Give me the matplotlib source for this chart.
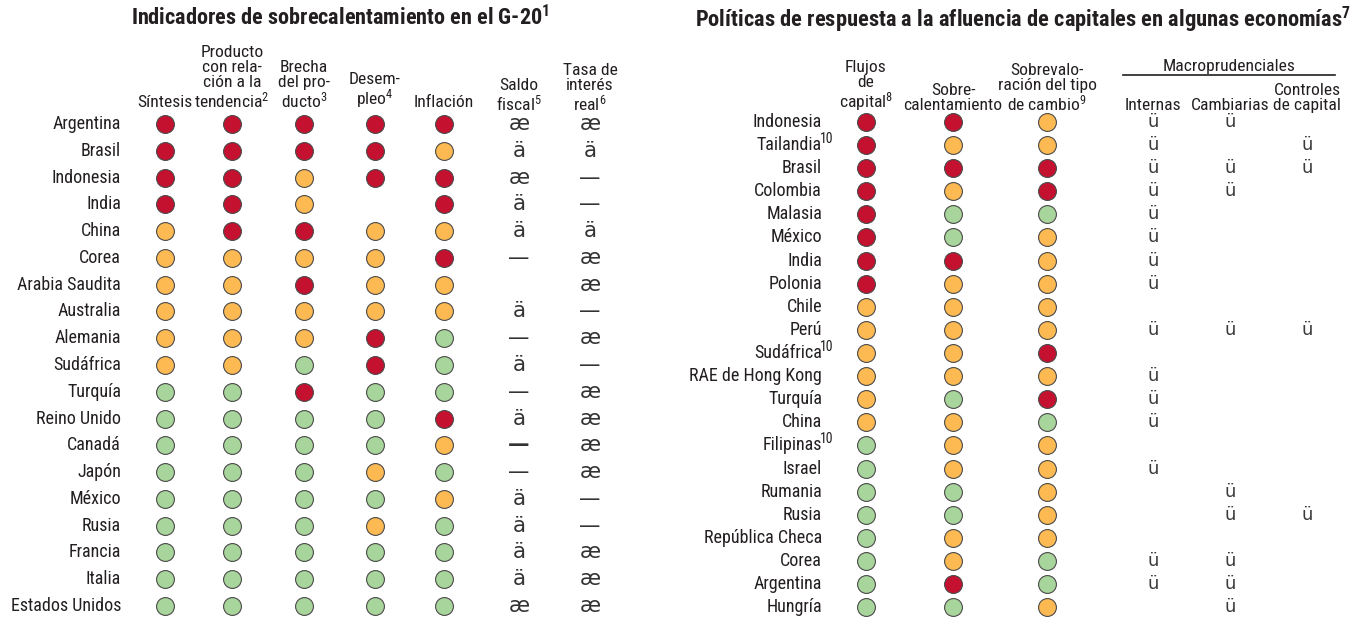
import matplotlib
matplotlib.use("Agg")
import matplotlib.pyplot as plt
from matplotlib import font_manager

# ---- data: left table (G-20 overheating indicators) ----
left_rows = ["Argentina", "Brasil", "Indonesia", "India", "China", "Corea", "Arabia Saudita",
             "Australia", "Alemania", "Sudáfrica", "Turquía", "Reino Unido", "Canadá", "Japón",
             "México", "Rusia", "Francia", "Italia", "Estados Unidos"]
left_headers = ["Síntesis", "Producto\ncon rela-\nción a la\ntendencia$^{2}$", "Brecha\ndel pro-\nducto$^{3}$",
                "Desem-\npleo$^{4}$", "Inflación", "Saldo\nfiscal$^{5}$", "Tasa de\ninterés\nreal$^{6}$"]
# 3 = alto (rojo), 2 = medio (amarillo), 1 = bajo (verde), 0 = sin dato
sintesis = [3, 3, 3, 3, 2, 2, 2, 2, 2, 2, 1, 1, 1, 1, 1, 1, 1, 1, 1]
producto = [3, 3, 3, 3, 3, 2, 2, 2, 2, 2, 1, 1, 1, 1, 1, 1, 1, 1, 1]
brecha = [3, 3, 2, 2, 3, 2, 3, 2, 2, 1, 3, 1, 1, 1, 1, 1, 1, 1, 1]
desempleo = [3, 3, 3, 0, 2, 2, 2, 2, 3, 3, 1, 1, 1, 2, 1, 2, 1, 1, 1]
inflacion = [3, 2, 3, 3, 2, 3, 2, 2, 1, 1, 1, 3, 2, 1, 2, 1, 1, 1, 1]
saldo_fiscal = ["æ", "ä", "æ", "ä", "ä", "—", "", "ä", "—", "ä", "—", "ä", "—", "—", "ä", "ä", "ä", "ä", "æ"]
tasa_real = ["æ", "ä", "—", "—", "ä", "æ", "æ", "—", "æ", "—", "æ", "æ", "æ", "æ", "—", "—", "æ", "æ", "æ"]
bold_cells = [("Canadá", 5)]

# ---- data: right table (capital inflow responses) ----
right_rows = ["Indonesia", "Tailandia", "Brasil", "Colombia", "Malasia", "México", "India", "Polonia",
              "Chile", "Perú", "Sudáfrica", "RAE de Hong Kong", "Turquía", "China", "Filipinas",
              "Israel", "Rumania", "Rusia", "República Checa", "Corea", "Argentina", "Hungría"]
right_notes = {"Tailandia": "10", "Sudáfrica": "10", "Filipinas": "10"}
right_headers = ["Flujos\nde\ncapital$^{8}$", "Sobre-\ncalentamiento", "Sobrevalo-\nración del tipo\nde cambio$^{9}$",
                 "Internas", "Cambiarias", "Controles\nde capital"]
flujos = [3, 3, 3, 3, 3, 3, 3, 3, 2, 2, 2, 2, 2, 2, 1, 1, 1, 1, 1, 1, 1, 1]
sobrecalent = [3, 2, 3, 2, 1, 1, 3, 2, 2, 2, 2, 2, 1, 2, 2, 2, 1, 1, 2, 2, 3, 1]
sobrevalor = [2, 2, 3, 3, 1, 2, 2, 2, 2, 2, 3, 2, 3, 1, 2, 2, 2, 2, 2, 1, 1, 2]
internas = [1, 1, 1, 1, 1, 1, 1, 1, 0, 1, 0, 1, 1, 1, 0, 1, 0, 0, 0, 1, 1, 0]
cambiarias = [1, 0, 1, 1, 0, 0, 0, 0, 0, 1, 0, 0, 0, 0, 0, 0, 1, 1, 0, 1, 1, 1]
controles = [0, 1, 1, 0, 0, 0, 0, 0, 0, 1, 0, 0, 0, 0, 0, 0, 0, 1, 0, 0, 0, 0]

colors = {3: "#C4112F", 2: "#FDBA52", 1: "#A8D59B"}
txt = "#231F20"

# ---- fonts ----
names = {f.name for f in font_manager.fontManager.ttflist}
fam = "Liberation Sans"
k = 0.82
for cand in ["Roboto Condensed", "Liberation Sans Narrow", "Open Sans Condensed"]:
    if cand in names:
        fam = cand
        k = 1.0
        break
plt.rcParams["font.family"] = [fam, "DejaVu Sans"]
plt.rcParams["mathtext.fontset"] = "custom"
plt.rcParams["mathtext.rm"] = fam
plt.rcParams["mathtext.bf"] = fam + ":bold"
plt.rcParams["mathtext.default"] = "regular"
sym_font = "DejaVu Sans"

W, H = 1358, 622
fig = plt.figure(figsize=(W / 100, H / 100), dpi=100)


def make_ax(row0, step):
    ax = fig.add_axes([0, 0, 1, 1])
    ax.set_xlim(0, W)
    ax.set_ylim((H - row0) / step, -row0 / step)
    ax.axis("off")
    return ax


def circles(ax, x, vals):
    for c in (1, 2, 3):
        ys = [i for i, v in enumerate(vals) if v == c]
        ax.scatter([x] * len(ys), ys, s=165, color=colors[c], edgecolor="#4a4a4a",
                   linewidth=0.8, zorder=3)


# ---- left panel ----
l_row0, l_step = 124, 26.78
axl = make_ax(l_row0, l_step)
l_cols = [165, 232, 304, 375, 444, 519, 590]
for i, name in enumerate(left_rows):
    axl.text(121, i, name, ha="right", va="center", fontsize=13 * k, color=txt)
for j, h in enumerate(left_headers):
    yb = 110 if j < 5 else 113
    axl.text(l_cols[j], (yb - l_row0) / l_step, h, ha="center", va="bottom",
             fontsize=12.6 * k, color=txt, linespacing=1.0)
for j, vals in enumerate([sintesis, producto, brecha, desempleo, inflacion]):
    circles(axl, l_cols[j], vals)
for j, vals in [(5, saldo_fiscal), (6, tasa_real)]:
    for i, s in enumerate(vals):
        if not s:
            continue
        bold = (left_rows[i], j) in bold_cells
        axl.text(l_cols[j], i, s, ha="center", va="center", fontsize=15.5,
                 family=sym_font, color="#333333", fontweight="bold" if bold else "normal")
fig.text(340 / W, 1 - 18 / H, "Indicadores de sobrecalentamiento en el G-20$^{\\mathbf{1}}$",
         ha="center", va="center", fontsize=16 * k, fontweight="bold", color=txt)

# ---- right panel ----
r_row0, r_step = 122, 23.1
axr = make_ax(r_row0, r_step)
r_cols = [866, 953, 1047, 1153, 1230, 1307]
for i, name in enumerate(right_rows):
    axr.text(822, i, name, ha="right", va="center", fontsize=13 * k, color=txt)
    if name in right_notes:
        axr.text(820, i - 0.28, right_notes[name], ha="left", va="center",
                 fontsize=10 * k, color=txt)
for j, h in enumerate(right_headers):
    axr.text(r_cols[j], (113 - r_row0) / r_step, h, ha="center", va="bottom",
             fontsize=12.6 * k, color=txt, linespacing=1.0)
for j, vals in enumerate([flujos, sobrecalent, sobrevalor]):
    circles(axr, r_cols[j], vals)
for j, vals in [(3, internas), (4, cambiarias), (5, controles)]:
    for i, v in enumerate(vals):
        if v:
            axr.text(r_cols[j], i, "ü", ha="center", va="center", fontsize=13,
                     family=sym_font, color="#3a3a3a")
axr.text((1123 + 1335) / 2, (67 - r_row0) / r_step, "Macroprudenciales", ha="center",
         va="center", fontsize=12.6 * k, color=txt)
axr.plot([1123, 1335], [(75 - r_row0) / r_step] * 2, color=txt, linewidth=1.2)
fig.text(1023 / W, 1 - 20 / H,
         "Políticas de respuesta a la afluencia de capitales en algunas economías$^{\\mathbf{7}}$",
         ha="center", va="center", fontsize=16.2 * k, fontweight="bold", color=txt)

fig.savefig("out.png", dpi=100, facecolor="white")
